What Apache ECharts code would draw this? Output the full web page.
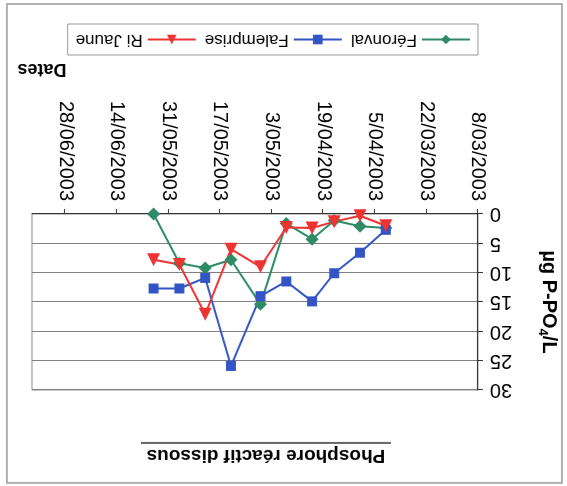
<!DOCTYPE html>
<html>
<head>
<meta charset="utf-8">
<script src="https://cdn.jsdelivr.net/npm/echarts@6/dist/echarts.min.js"></script>
<style>
  html, body { margin: 0; padding: 0; background: #fff; }
  #chart { width: 567px; height: 486px; transform: rotate(180deg); transform-origin: 50% 50%; }
</style>
</head>
<body>
<div id="chart"></div>
<script>
// Sampling dates (d/mm/yyyy)
const dates = ['2/04/2003', '9/04/2003', '16/04/2003', '22/04/2003', '29/04/2003',
               '6/05/2003', '14/05/2003', '21/05/2003', '28/05/2003', '4/06/2003'];
// µg P-PO4/L
const feronval   = [2.4, 2.1, 1.1, 4.3, 1.6, 15.4, 7.8, 9.2, 8.4, 0];
const falemprise = [2.7, 6.6, 10.1, 14.9, 11.5, 14.0, 25.9, 10.9, 12.7, 12.7];
const riJaune    = [2.0, 0.3, 1.3, 2.4, 2.3, 9.0, 6.0, 17.1, 8.6, 7.8];
const seriesNames = ['Féronval', 'Falemprise', 'Ri Jaune'];
const yTicks = [0, 5, 10, 15, 20, 25, 30];
const axisStart = '8/03/2003';
const axisDays = 121;
const tickDays = 14;

const DAY = 86400000;
function parseD(s) { const p = s.split('/').map(Number); return Date.UTC(p[2], p[1] - 1, p[0]); }
const t0 = parseD(axisStart);
const dayOf = s => Math.round((parseD(s) - t0) / DAY);
function fmt(v) {
  const d = new Date(t0 + v * DAY);
  const mm = String(d.getUTCMonth() + 1).padStart(2, '0');
  return d.getUTCDate() + '/' + mm + '/' + d.getUTCFullYear();
}
const pts = arr => dates.map((s, i) => [dayOf(s), arr[i]]);

const FONT = "'Liberation Sans', Arial, sans-serif";
const chart = echarts.init(document.getElementById('chart'), null, { renderer: 'canvas' });
chart.setOption({
  animation: false,
  backgroundColor: '#fff',
  textStyle: { fontFamily: FONT },
  grid: { left: 81, right: 32, top: 96, bottom: 214, show: true, borderColor: '#888', borderWidth: 1, backgroundColor: '#fff' },
  legend: {
    left: 89, top: 431, orient: 'horizontal',
    data: seriesNames,
    itemWidth: 48, itemHeight: 12, itemGap: 8,
    padding: [7, 8, 7, 7],
    borderColor: '#999', borderWidth: 1,
    textStyle: { fontSize: 17, color: '#000', fontFamily: FONT }
  },
  xAxis: {
    type: 'value', min: 0, max: axisDays, interval: tickDays,
    axisLine: { show: true, lineStyle: { color: '#333', width: 1 } },
    axisTick: { show: true, length: 5, lineStyle: { color: '#333' } },
    splitLine: { show: false },
    axisLabel: {
      rotate: 90, fontSize: 20, color: '#000', margin: 13, fontFamily: FONT,
      showMaxLabel: false,
      formatter: v => (v % tickDays === 0 ? fmt(v) : '')
    }
  },
  yAxis: {
    type: 'value', min: yTicks[0], max: yTicks[yTicks.length - 1], interval: 5,
    axisLine: { show: true, lineStyle: { color: '#333', width: 1 } },
    axisTick: { show: true, length: 5, lineStyle: { color: '#333' } },
    splitLine: { show: true, lineStyle: { color: '#808080', width: 1 } },
    axisLabel: { fontSize: 20, color: '#000', margin: 12, fontFamily: FONT },
    name: '{a|µg P-PO}{b|4}{a|/L}',
    nameLocation: 'middle', nameGap: 58,
    nameTextStyle: {
      rich: {
        a: { fontSize: 20, fontWeight: 'bold', color: '#000', lineHeight: 26, fontFamily: FONT },
        b: { fontSize: 13, fontWeight: 'bold', color: '#000', lineHeight: 13, verticalAlign: 'bottom', fontFamily: FONT }
      }
    }
  },
  series: [
    { name: seriesNames[0], type: 'line', data: pts(feronval), symbol: 'diamond', symbolSize: 13,
      itemStyle: { color: '#2e8b66' }, lineStyle: { color: '#2e8b66', width: 2 } },
    { name: seriesNames[1], type: 'line', data: pts(falemprise), symbol: 'rect', symbolSize: 10,
      itemStyle: { color: '#3355c4' }, lineStyle: { color: '#3355c4', width: 2 } },
    { name: seriesNames[2], type: 'line', data: pts(riJaune), symbol: 'triangle', symbolSize: 13,
      itemStyle: { color: '#ee3333' }, lineStyle: { color: '#ee3333', width: 2 } }
  ],
  graphic: [
    { type: 'rect', shape: { x: 5, y: 3, width: 555, height: 479 }, style: { fill: 'none', stroke: '#999', lineWidth: 1.5 }, silent: true },
    { type: 'text', x: 301, y: 21, style: { text: 'Phosphore réactif dissous', font: 'bold 19px ' + FONT, fill: '#000', textAlign: 'center', textVerticalAlign: 'top' } },
    { type: 'line', shape: { x1: 176, y1: 43, x2: 426, y2: 43 }, style: { stroke: '#333', lineWidth: 1.5 } },
    { type: 'text', x: 525, y: 417, style: { text: 'Dates', font: 'bold 18px ' + FONT, fill: '#000', textAlign: 'center', textVerticalAlign: 'middle' } }
  ]
});
</script>
</body>
</html>
